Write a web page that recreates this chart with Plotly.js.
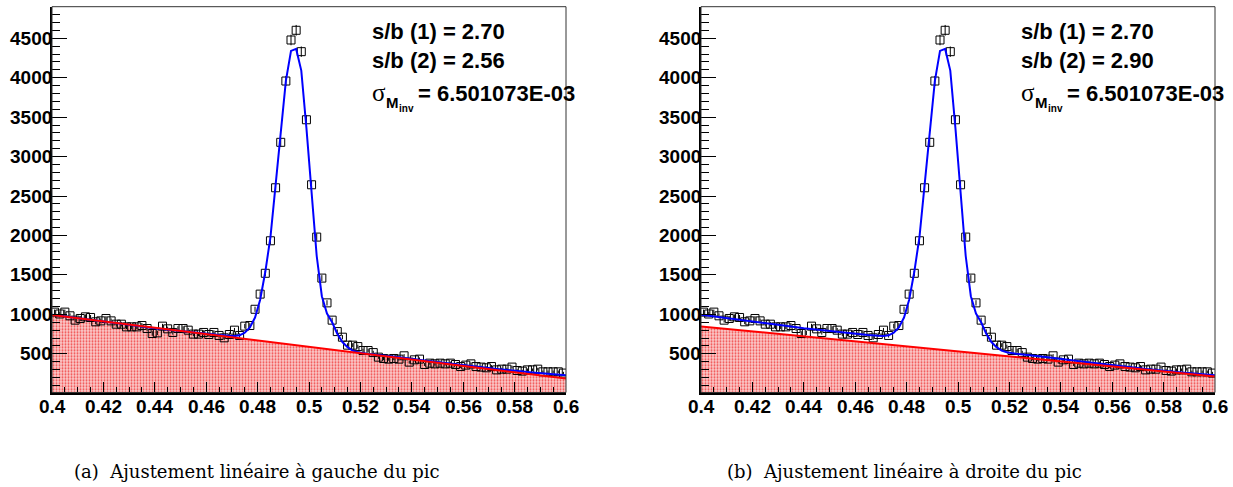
<!DOCTYPE html>
<html>
<head>
<meta charset="utf-8">
<script src="https://cdn.plot.ly/plotly-3.0.1.min.js"></script>
<style>html,body{margin:0;padding:0;background:#fff;}#chart{width:1233px;height:487px;}</style>
</head>
<body>
<div id="chart"></div>
<script>
// ---- data (histogram: 100 bins of width 0.002 from 0.4 to 0.6) ----
const binStart = 0.401;   // first bin centre
const binWidth = 0.002;
const counts = [
 1029,1005,1029,982,927,948,969,961,906,918,
 948,918,876,876,842,842,842,859,821,758,
 766,851,817,771,821,821,800,750,750,771,
 745,771,733,703,745,800,733,851,859,1065,
 1257,1521,1933,2605,3181,3958,4478,4601,4330,3467,
 2643,1980,1460,1146,927,782,711,610,610,592,
 542,542,516,458,441,433,441,433,475,395,
 424,433,365,382,373,382,373,382,365,339,
 357,373,339,332,323,339,297,306,306,332,
 289,281,297,297,306,272,272,272,272,256
];
// total fit (signal + background)
const fitX = [0.400,0.410,0.420,0.430,0.440,0.450,0.460,0.465,0.469,0.471,0.473,0.475,0.477,0.479,0.481,0.483,0.485,0.487,0.489,0.491,0.493,0.495,0.497,0.499,0.501,0.503,0.505,0.507,0.509,0.511,0.513,0.515,0.517,0.519,0.5225,0.535,0.548,0.561,0.574,0.587,0.600];
const fitY = [995,950,910,868,825,788,752,738,728,726,735,768,835,960,1185,1540,1980,2600,3300,3960,4340,4365,4090,3360,2520,1740,1230,1010,900,755,650,585,540,520,500,458,403,350,306,263,228];
// linear background fits
const bgX = [0.4, 0.6];
const bgLeftY = [992, 186];   // (a) fit left of the peak
const bgRightY = [848, 213];  // (b) fit right of the peak
const sbText = [["s/b (1) = 2.70","s/b (2) = 2.56"],["s/b (1) = 2.70","s/b (2) = 2.90"]];
const sigmaValue = "= 6.501073E-03";
const captions = ["(a)  Ajustement linéaire à gauche du pic","(b)  Ajustement linéaire à droite du pic"];
const xTicks = [0.4,0.42,0.44,0.46,0.48,0.5,0.52,0.54,0.56,0.58,0.6];
const xTickLabels = ["0.4","0.42","0.44","0.46","0.48","0.5","0.52","0.54","0.56","0.58","0.6"];
const yTicks = [500,1000,1500,2000,2500,3000,3500,4000,4500];
const yTickLabels = ["500","1000","1500","2000","2500","3000","3500","4000","4500"];

// ---- layout helpers ----
const W = 1233, H = 487;
const px = x => x / W, py = y => 1 - y / H;
const panels = [{l:52, r:566, bg:bgLeftY}, {l:701, r:1215, bg:bgRightY}];
const yDom = [py(392.5), py(6.7)];
const bold = s => '<b>' + s + '</b>';

const tickFont = {family:'Liberation Sans', size:19, color:'#000'};
const traces = [];
const layout = {
  width:W, height:H, margin:{l:0,r:0,t:0,b:0},
  paper_bgcolor:'#fff', plot_bgcolor:'#fff', showlegend:false,
  annotations:[], shapes:[]
};

panels.forEach((p, k) => {
  const xa = k === 0 ? 'x' : 'x2', ya = k === 0 ? 'y' : 'y2';
  const xk = k === 0 ? 'xaxis' : 'xaxis2', yk = k === 0 ? 'yaxis' : 'yaxis2';
  layout[xk] = {
    domain:[px(p.l), px(p.r)], anchor:ya, range:[0.4,0.6],
    tickmode:'array', tickvals:xTicks, showticklabels:false,
    ticks:'inside', ticklen:11, tickwidth:1, tickcolor:'#000',
    minor:{tick0:0.4, dtick:0.005, ticks:'inside', ticklen:6, tickwidth:1, tickcolor:'#000', showgrid:false},
    showline:true, linecolor:'#000', linewidth:2, showgrid:false, zeroline:false, fixedrange:true
  };
  layout[yk] = {
    domain:yDom, anchor:xa, range:[10,4900],
    tickmode:'array', tickvals:yTicks, showticklabels:false,
    ticks:'inside', ticklen:15, tickwidth:1, tickcolor:'#000',
    minor:{tick0:0, dtick:100, ticks:'inside', ticklen:8, tickwidth:1, tickcolor:'#000', showgrid:false},
    showline:true, linecolor:'#000', linewidth:2, showgrid:false, zeroline:false, fixedrange:true
  };
  // tick labels placed through the axes' own scales
  xTicks.forEach((v, i) => layout.annotations.push({text:bold(xTickLabels[i]), x:v, xref:xa, y:0, yref:ya+' domain',
    xanchor:'center', yanchor:'top', yshift:-2, showarrow:false, font:tickFont, borderpad:0}));
  yTicks.forEach((v, i) => layout.annotations.push({text:bold(yTickLabels[i]), x:0, xref:xa+' domain', y:v, yref:ya,
    xanchor:'right', yanchor:'middle', xshift:1, showarrow:false, font:tickFont, borderpad:0}));
  // frame
  layout.shapes.push({type:'rect', xref:xa+' domain', yref:ya+' domain', x0:0, x1:1, y0:0, y1:1,
    line:{color:'#333', width:1}, fillcolor:'rgba(0,0,0,0)', layer:'above'});

  // background area (hatched red)
  traces.push({x:bgX, y:p.bg, xaxis:xa, yaxis:ya, type:'scatter', mode:'none',
    fill:'tozeroy', fillcolor:'#f7b4b4',
    fillpattern:{shape:'.', fgcolor:'#f04848', bgcolor:'#fbcccc', size:3, solidity:0.35},
    hoverinfo:'skip'});
  // data points
  traces.push({y:counts, x0:binStart, dx:binWidth, xaxis:xa, yaxis:ya, type:'scatter', mode:'markers',
    marker:{symbol:'square-open', size:8, color:'#000', line:{width:1, color:'#000'}},
    error_y:{type:'sqrt', visible:true, color:'#000', thickness:1, width:0},
    cliponaxis:true});
  // total fit
  traces.push({x:fitX, y:fitY, xaxis:xa, yaxis:ya, type:'scatter', mode:'lines',
    line:{color:'#0000ff', width:2}});
  // background line
  traces.push({x:bgX, y:p.bg, xaxis:xa, yaxis:ya, type:'scatter', mode:'lines',
    line:{color:'#ff0000', width:2}});

  // texts
  const off = p.l - 52;
  const bf = (s) => ({family:'Liberation Sans', size:s, color:'#000'});
  const ann = (text, x, y, font) => layout.annotations.push({text, x:px(x+off), y:py(y), xref:'paper', yref:'paper',
    xanchor:'left', yanchor:'middle', showarrow:false, font, borderpad:0});
  ann(bold(sbText[k][0]), 371, 31.7, bf(22));
  ann(bold(sbText[k][1]), 371, 60, bf(22));
  ann('σ', 371, 92, {family:'Liberation Serif', size:25, color:'#000'});
  ann(bold('M'), 385, 102.5, bf(15));
  ann(bold('inv'), 397.5, 109, bf(10));
  ann(bold(sigmaValue), 416.5, 93.3, bf(22));

  layout.annotations.push({text:captions[k], x:px([256.7, 904.2][k]), y:py(471), xref:'paper', yref:'paper',
    xanchor:'center', yanchor:'middle', showarrow:false,
    font:{family:'DejaVu Serif', size:18, color:'#000'}});
});

Plotly.newPlot('chart', traces, layout, {staticPlot:true});
</script>
</body>
</html>
